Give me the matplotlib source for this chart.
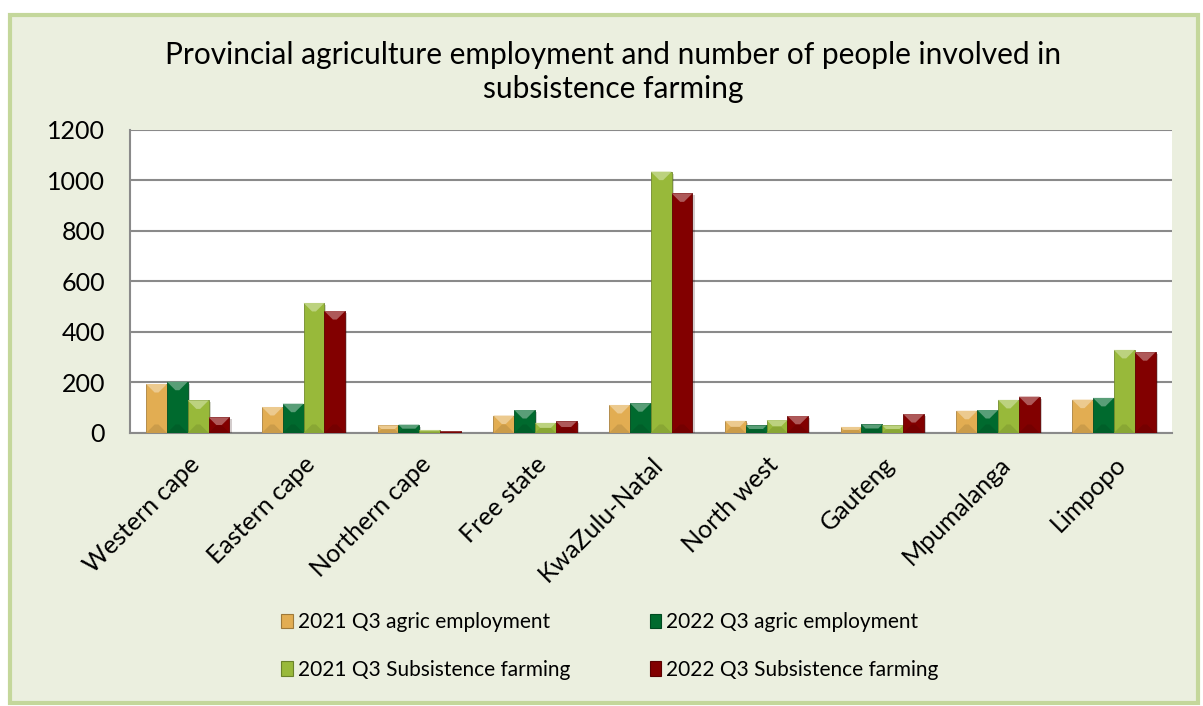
import matplotlib.pyplot as plt
import matplotlib.patheffects as pe
import matplotlib.transforms as mtransforms
import numpy as np
from matplotlib.colors import to_rgb
from matplotlib.patches import Polygon, Rectangle

plt.rcParams["font.family"] = ["Lato", "DejaVu Sans"]

provinces = [
    "Western cape", "Eastern cape", "Northern cape", "Free state",
    "KwaZulu-Natal", "North west", "Gauteng", "Mpumalanga", "Limpopo",
]
series_names = [
    "2021 Q3 agric employment",
    "2022 Q3 agric employment",
    "2021 Q3 Subsistence farming",
    "2022 Q3 Subsistence farming",
]
agric_2021 = [194, 103, 30, 69, 111, 48, 24, 88, 132]
agric_2022 = [203, 116, 33, 91, 118, 30, 34, 91, 139]
subsist_2021 = [129, 515, 12, 40, 1035, 51, 30, 131, 329]
subsist_2022 = [62, 483, 6, 46, 949, 67, 75, 144, 320]
yticks = [0, 200, 400, 600, 800, 1000, 1200]

colors = ["#e2ad52", "#006a2e", "#98b93a", "#820000"]
bg = "#ebefdf"


def shade(c, f):
    r = np.array(to_rgb(c))
    if f > 0:
        return tuple(r + (1 - r) * f)
    return tuple(r * (1 + f))


fig = plt.figure(figsize=(12.03, 7.06), dpi=100)
fig.patch.set_facecolor("white")
fig.patches.append(Rectangle((0.008, 0.004), 0.988, 0.975, transform=fig.transFigure,
                             facecolor=bg, edgecolor="#c4d79b", lw=3, zorder=-1))

ax = fig.add_axes([0.108, 0.3867, 0.866, 0.4292])
ax.set_facecolor("white")
ax.set_xlim(-0.5, len(provinces) - 0.5)
ax.set_ylim(0, 1200)

x = np.arange(len(provinces))
w = 0.18
all_series = [agric_2021, agric_2022, subsist_2021, subsist_2022]

# pixel scale, used for the bevel size on each bar
px_x = (0.866 * 1203) / len(provinces)
px_y = (0.4292 * 706) / 1200

for i, (vals, col) in enumerate(zip(all_series, colors)):
    xs = x + (i - 1.5) * w
    bars = ax.bar(xs, vals, width=w, color=col, zorder=3,
                  edgecolor=shade(col, -0.25), lw=0.6)
    for b in bars:
        b.set_path_effects([pe.SimplePatchShadow(offset=(1.5, -1.5), alpha=0.2), pe.Normal()])
        x0, bw, h = b.get_x(), b.get_width(), b.get_height()
        d_px = min(8.5, h * px_y / 2)
        dx = d_px / px_x
        dy = d_px / px_y
        top = Polygon([(x0, h), (x0 + bw, h), (x0 + bw - dx, h - dy), (x0 + dx, h - dy)],
                      closed=True, facecolor=shade(col, 0.35), edgecolor="none", zorder=4)
        bot = Polygon([(x0, 0), (x0 + bw, 0), (x0 + bw - dx, dy), (x0 + dx, dy)],
                      closed=True, facecolor=shade(col, -0.1), edgecolor="none", zorder=4)
        ax.add_patch(top)
        ax.add_patch(bot)

ax.set_yticks(yticks)
ax.set_yticklabels([str(v) for v in yticks], fontsize=18)
ax.set_xticks(x)
ax.set_xticklabels(provinces, fontsize=18, rotation=45, ha="right", va="top",
                   rotation_mode="anchor")
shift = mtransforms.ScaledTranslation(6 / 100, 0, fig.dpi_scale_trans)
for lbl in ax.get_xticklabels():
    lbl.set_transform(lbl.get_transform() + shift)
ax.tick_params(axis="both", length=0)
ax.tick_params(axis="y", pad=18)
ax.tick_params(axis="x", pad=14)
ax.grid(axis="y", color="#8a8a8a", lw=1.5, zorder=0)
ax.set_axisbelow(True)
for side in ["top", "right"]:
    ax.spines[side].set_visible(False)
for side in ["left", "bottom"]:
    ax.spines[side].set_color("#8a8a8a")
    ax.spines[side].set_linewidth(1.5)

fig.text(0.51, 0.898, "Provincial agriculture employment and number of people involved in\nsubsistence farming",
         ha="center", va="center", fontsize=21.5, linespacing=1.3)

# legend fills column-wise, so order the entries to get the rows right
order = [0, 2, 1, 3]
handles = [Rectangle((0, 0), 1, 1, facecolor=colors[k], edgecolor=shade(colors[k], -0.3), lw=0.8)
           for k in order]
fig.legend(handles, [series_names[k] for k in order], loc="center",
           bbox_to_anchor=(0.507, 0.085), ncol=2, frameon=False, fontsize=15,
           handlelength=0.55, handleheight=0.7, handletextpad=0.25,
           columnspacing=3.8, labelspacing=1.3)

fig.savefig("out.png", dpi=100, facecolor=fig.get_facecolor())
